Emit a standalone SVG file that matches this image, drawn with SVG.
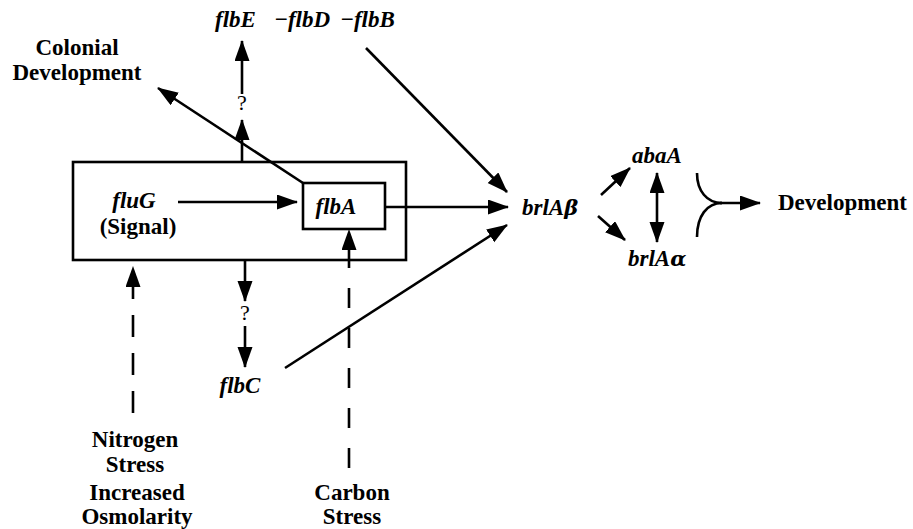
<svg xmlns="http://www.w3.org/2000/svg" width="913" height="529" viewBox="0 0 913 529">
<defs>
<marker id="ah" markerUnits="userSpaceOnUse" markerWidth="22" markerHeight="16" refX="20" refY="7.5" orient="auto-start-reverse" viewBox="0 0 22 16">
<path d="M0,0 L21,7.5 L0,15 z" fill="#000"/>
</marker>
<style>
.ln{stroke:#000;stroke-width:2.6;fill:none}
.dash{stroke:#000;stroke-width:2.6;fill:none;stroke-dasharray:22 16}
.dash2{stroke:#000;stroke-width:2.6;fill:none;stroke-dasharray:20 20}
.box{stroke:#000;stroke-width:2.6;fill:none}
.b{font-family:"Liberation Serif","Times New Roman",serif;font-weight:bold;font-size:23px;fill:#000}
.bi{font-family:"Liberation Serif","Times New Roman",serif;font-weight:bold;font-style:italic;font-size:23px;fill:#000}
.q{font-family:"Liberation Serif","Times New Roman",serif;font-size:22px;fill:#000}
</style>
</defs>
<rect width="913" height="529" fill="#fff"/>

<g id="connectors">
<line class="ln" x1="178" y1="202" x2="297" y2="202" marker-end="url(#ah)"/>
<line class="ln" x1="385" y1="207" x2="508" y2="207" marker-end="url(#ah)"/>
<line class="ln" x1="366" y1="48" x2="507" y2="192" marker-end="url(#ah)"/>
<line class="ln" x1="285" y1="368" x2="507" y2="225" marker-end="url(#ah)"/>
<line class="ln" x1="303" y1="183" x2="158" y2="88" marker-end="url(#ah)"/>
<line class="ln" x1="242" y1="162" x2="242" y2="120" marker-end="url(#ah)"/>
<line class="ln" x1="242" y1="94" x2="242" y2="41" marker-end="url(#ah)"/>
<line class="ln" x1="245" y1="260" x2="245" y2="301" marker-end="url(#ah)"/>
<line class="ln" x1="245" y1="326" x2="245" y2="367" marker-end="url(#ah)"/>
<line class="dash" x1="133" y1="413" x2="133" y2="267" marker-end="url(#ah)"/>
<line class="dash2" x1="349" y1="468" x2="349" y2="230" marker-end="url(#ah)"/>
<line class="ln" x1="601" y1="195" x2="630" y2="168" marker-end="url(#ah)"/>
<line class="ln" x1="598" y1="216" x2="625" y2="240" marker-end="url(#ah)"/>
<line class="ln" x1="657" y1="173" x2="657" y2="242" marker-start="url(#ah)" marker-end="url(#ah)"/>
<path class="ln" d="M697,173 C697,191 707,203 722,203"/>
<path class="ln" d="M697,237 C697,216 707,203 722,203"/>
<line class="ln" x1="720" y1="203" x2="760" y2="203" marker-end="url(#ah)"/>
<text class="q" x="242" y="110" text-anchor="middle">?</text>
<text class="q" x="245" y="320" text-anchor="middle">?</text>
</g>

<g id="outer-box">
<rect class="box" x="73" y="162" width="333" height="98"/>
</g>
<g id="fluG">
<text class="bi" x="134" y="208" text-anchor="middle">fluG</text>
<text class="b" x="138" y="234" text-anchor="middle">(Signal)</text>
</g>
<g id="flbA">
<rect class="box" x="303" y="183" width="82" height="46"/>
<text class="bi" x="336" y="214" text-anchor="middle">flbA</text>
</g>
<g id="flbEDB">
<text class="bi" y="27"><tspan x="215">flbE</tspan><tspan x="274">−flbD</tspan><tspan x="340">−flbB</tspan></text>
</g>
<g id="colonial">
<text class="b" x="77" y="55" text-anchor="middle">Colonial</text>
<text class="b" x="77" y="80" text-anchor="middle">Development</text>
</g>
<g id="brlAb">
<text class="bi" x="522" y="215">brlA<tspan font-family="'DejaVu Serif',serif" font-size="21">β</tspan></text>
</g>
<g id="abaA">
<text class="bi" x="657" y="163" text-anchor="middle">abaA</text>
</g>
<g id="brlAa">
<text class="bi" x="628" y="266">brlA<tspan font-family="'DejaVu Serif',serif" font-size="21">α</tspan></text>
</g>
<g id="development">
<text class="b" x="778" y="210">Development</text>
</g>
<g id="flbC">
<text class="bi" x="240" y="393" text-anchor="middle">flbC</text>
</g>
<g id="nitrogen">
<text class="b" x="135" y="447" text-anchor="middle">Nitrogen</text>
<text class="b" x="135" y="472" text-anchor="middle">Stress</text>
<text class="b" x="137" y="500" text-anchor="middle">Increased</text>
<text class="b" x="137" y="524" text-anchor="middle">Osmolarity</text>
</g>
<g id="carbon">
<text class="b" x="352" y="500" text-anchor="middle">Carbon</text>
<text class="b" x="352" y="524" text-anchor="middle">Stress</text>
</g>
</svg>
